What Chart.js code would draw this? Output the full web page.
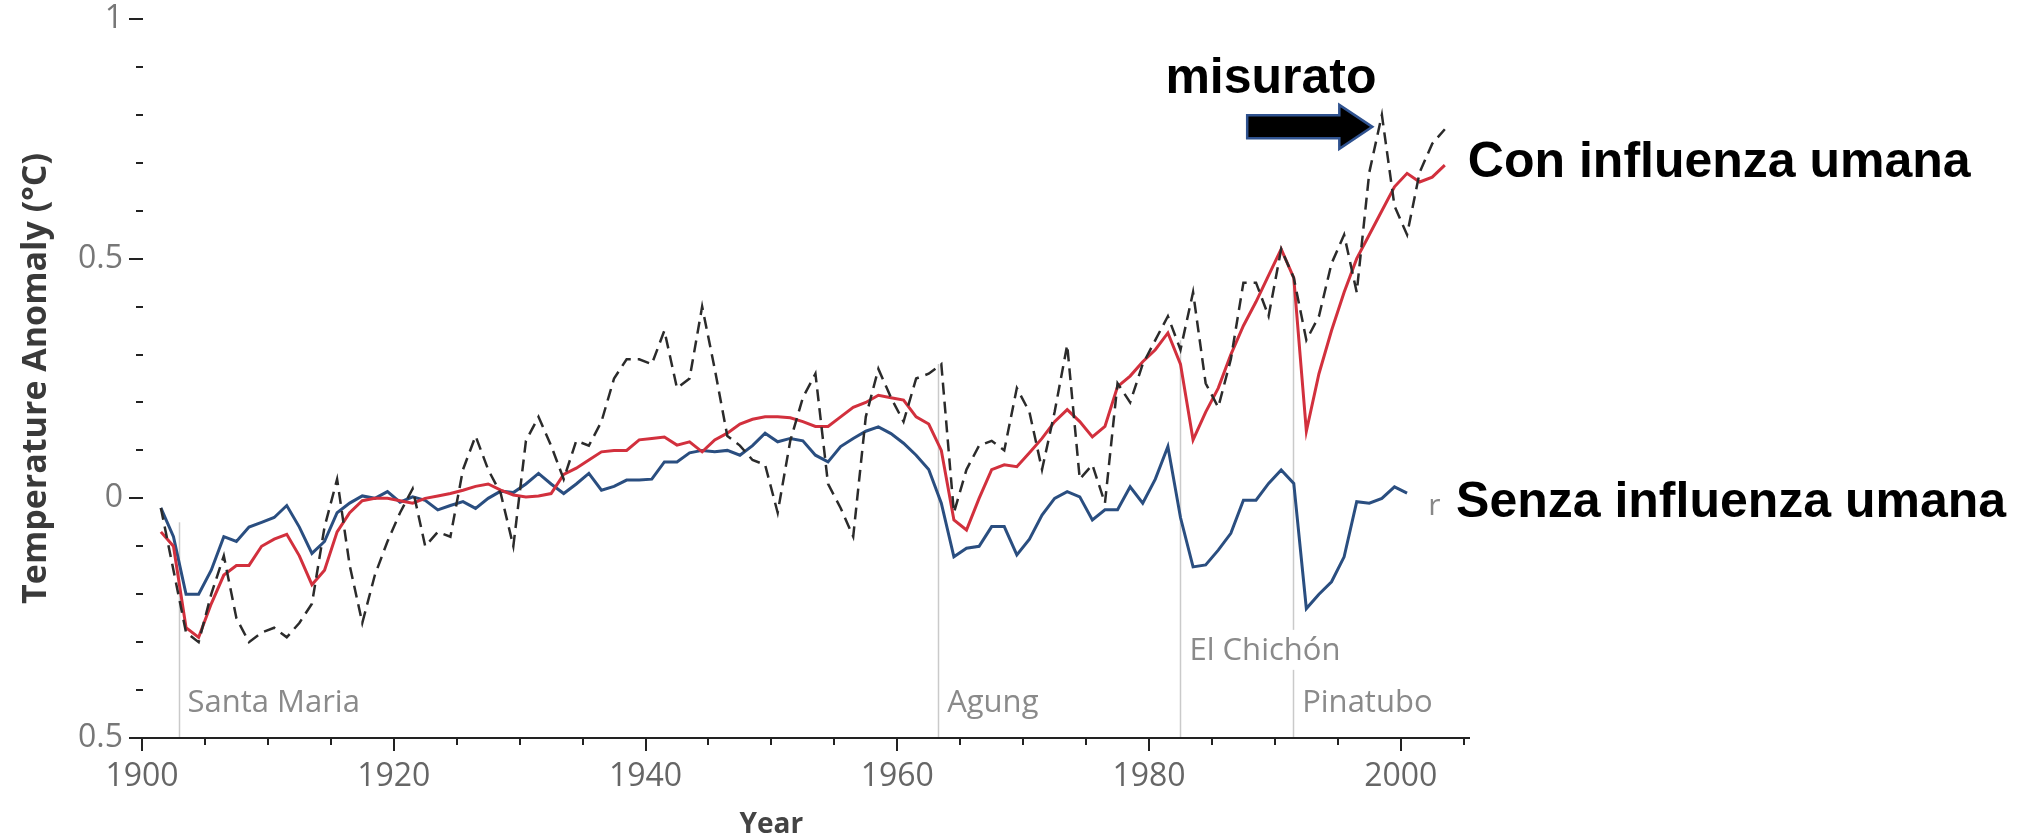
<!DOCTYPE html>
<html>
<head>
<meta charset="utf-8">
<title>Temperature Anomaly</title>
<script src="https://cdn.jsdelivr.net/npm/chart.js@4.4.1/dist/chart.umd.min.js"></script>
<style>
  html, body { margin: 0; padding: 0; background: #fff; overflow: hidden; }
  #wrap { width: 2018px; height: 839px; }
</style>
</head>
<body>
<div id="wrap"><canvas id="tempChart" width="2018" height="839"></canvas></div>
<script>
// annual means, one value per year (plotted at mid-year)
const years = [
  1901, 1902, 1903, 1904, 1905, 1906, 1907, 1908, 1909, 1910,
  1911, 1912, 1913, 1914, 1915, 1916, 1917, 1918, 1919, 1920,
  1921, 1922, 1923, 1924, 1925, 1926, 1927, 1928, 1929, 1930,
  1931, 1932, 1933, 1934, 1935, 1936, 1937, 1938, 1939, 1940,
  1941, 1942, 1943, 1944, 1945, 1946, 1947, 1948, 1949, 1950,
  1951, 1952, 1953, 1954, 1955, 1956, 1957, 1958, 1959, 1960,
  1961, 1962, 1963, 1964, 1965, 1966, 1967, 1968, 1969, 1970,
  1971, 1972, 1973, 1974, 1975, 1976, 1977, 1978, 1979, 1980,
  1981, 1982, 1983, 1984, 1985, 1986, 1987, 1988, 1989, 1990,
  1991, 1992, 1993, 1994, 1995, 1996, 1997, 1998, 1999, 2000,
  2001, 2002, 2003
];

// measured (dashed)
const observed = [
  -0.02, -0.15, -0.28, -0.30, -0.20, -0.12, -0.25, -0.30, -0.28, -0.27,
  -0.29, -0.26, -0.22, -0.06, 0.04, -0.14, -0.26, -0.16, -0.09, -0.03,
  0.02, -0.10, -0.07, -0.08, 0.06, 0.13, 0.06, 0.01, -0.10, 0.12,
  0.17, 0.11, 0.04, 0.12, 0.11, 0.16, 0.25, 0.29, 0.29, 0.28,
  0.35, 0.23, 0.25, 0.40, 0.27, 0.13, 0.11, 0.08, 0.07, -0.03,
  0.12, 0.21, 0.26, 0.03, -0.02, -0.08, 0.17, 0.27, 0.21, 0.16,
  0.25, 0.26, 0.28, -0.03, 0.06, 0.11, 0.12, 0.10, 0.23, 0.18,
  0.06, 0.18, 0.32, 0.04, 0.07, -0.01, 0.24, 0.20, 0.28, 0.33,
  0.38, 0.31, 0.43, 0.24, 0.19, 0.29, 0.45, 0.45, 0.38, 0.52,
  0.46, 0.33, 0.38, 0.49, 0.55, 0.43, 0.68, 0.80, 0.61, 0.55,
  0.68, 0.74, 0.77
];

// model, natural + human forcing (red)
const withHumans = [
  -0.07, -0.10, -0.27, -0.29, -0.22, -0.16, -0.14, -0.14, -0.10, -0.085,
  -0.075, -0.12, -0.18, -0.15, -0.07, -0.03, -0.005, 0.0, 0.0, -0.005,
  -0.01, 0.0, 0.005, 0.01, 0.017, 0.025, 0.03, 0.017, 0.007, 0.003,
  0.005, 0.01, 0.05, 0.063, 0.08, 0.097, 0.10, 0.10, 0.122, 0.125,
  0.128, 0.111, 0.118, 0.097, 0.122, 0.136, 0.155, 0.165, 0.17, 0.17,
  0.168, 0.16, 0.15, 0.15, 0.17, 0.19, 0.20, 0.215, 0.21, 0.205,
  0.17, 0.155, 0.10, -0.045, -0.066, 0.0, 0.06, 0.07, 0.066, 0.095,
  0.125, 0.16, 0.185, 0.16, 0.128, 0.15, 0.233, 0.255, 0.285, 0.31,
  0.345, 0.28, 0.122, 0.18, 0.23, 0.30, 0.36, 0.41, 0.465, 0.52,
  0.46, 0.14, 0.26, 0.35, 0.43, 0.50, 0.55, 0.60, 0.65, 0.678,
  0.66, 0.67, 0.695
];

// model, natural forcing only (blue)
const naturalOnly = [
  -0.02, -0.08, -0.20, -0.20, -0.15, -0.08, -0.09, -0.06, -0.05, -0.04,
  -0.015, -0.06, -0.115, -0.09, -0.03, -0.01, 0.005, 0.0, 0.014, -0.008,
  0.003, -0.004, -0.024, -0.015, -0.007, -0.021, 0.0, 0.015, 0.012, 0.03,
  0.052, 0.03, 0.01, 0.03, 0.052, 0.017, 0.025, 0.038, 0.038, 0.04,
  0.076, 0.076, 0.095, 0.10, 0.097, 0.10, 0.09, 0.11, 0.136, 0.118,
  0.125, 0.12, 0.09, 0.076, 0.108, 0.125, 0.14, 0.149, 0.135, 0.115,
  0.09, 0.06, -0.01, -0.122, -0.104, -0.10, -0.059, -0.059, -0.118, -0.085,
  -0.035, 0.0, 0.014, 0.003, -0.045, -0.024, -0.024, 0.024, -0.01, 0.04,
  0.108, -0.04, -0.143, -0.139, -0.108, -0.073, -0.004, -0.004, 0.031, 0.059,
  0.031, -0.23, -0.20, -0.174, -0.122, -0.007, -0.01, 0.0, 0.024, 0.011
];

// major eruptions
const volcanoNames = ['Santa Maria', 'Agung', 'El Chichón', 'Pinatubo'];
const volcanoYears = [1902.9, 1963.25, 1982.5, 1991.45];

const labelledYears = [1900, 1920, 1940, 1960, 1980, 2000];
const labelledAnomalies = [1, 0.5, 0, -0.5];

// where the eruption markers stop and their names sit (in axis units)
const volcanoLayout = {
  tops: [-0.05, 0.28, 0.33, 0.46],
  baselines: [-0.445, -0.445, -0.337, -0.445]
};

// bold captions and the arrow, anchored to the axes
const captions = [
  { text: 'misurato', year: 1981.3, level: 0.846 },
  { text: 'Con influenza umana', year: 2005.33, level: 0.67 },
  { text: 'Senza influenza umana', year: 2004.39, level: -0.039 }
];
const arrow = { from: 1987.8, to: 1997.74, level: 0.775 };

const toPoints = vals => vals.map((v, i) => ({ x: years[i] + 0.5, y: v }));

const isLabelled = (list, v) => list.some(t => Math.abs(t - v) < 1e-6);

// keep the plot area exactly where the axes are drawn
const noAutoPadding = scale => {
  scale.paddingTop = 0;
  scale.paddingBottom = 0;
  scale.paddingLeft = 0;
  scale.paddingRight = 0;
};

const decorations = {
  id: 'decorations',
  beforeDatasetsDraw(chart) {
    const { ctx } = chart;
    const x = chart.scales.x, y = chart.scales.y;
    ctx.save();
    ctx.strokeStyle = '#cacaca';
    ctx.lineWidth = 1.5;
    volcanoYears.forEach((yr, i) => {
      const px = Math.round(x.getPixelForValue(yr)) + 0.5;
      ctx.beginPath();
      ctx.moveTo(px, y.bottom);
      ctx.lineTo(px, y.getPixelForValue(volcanoLayout.tops[i]));
      ctx.stroke();
    });
    ctx.font = '31px "Open Sans"';
    ctx.textAlign = 'left';
    ctx.textBaseline = 'alphabetic';
    volcanoNames.forEach((name, i) => {
      const px = x.getPixelForValue(volcanoYears[i]) + 9;
      const py = y.getPixelForValue(volcanoLayout.baselines[i]);
      const w = ctx.measureText(name).width;
      ctx.fillStyle = '#fff';
      ctx.fillRect(px - 2, py - 30, w + 4, 40);
      ctx.fillStyle = '#8a8a8a';
      ctx.fillText(name, px, py);
    });
    ctx.restore();
  },
  afterDraw(chart) {
    const { ctx } = chart;
    const x = chart.scales.x, y = chart.scales.y;
    ctx.save();

    // axis line and tick marks
    ctx.strokeStyle = '#222';
    ctx.lineWidth = 2;
    ctx.beginPath();
    ctx.moveTo(x.left - 12, y.bottom);
    ctx.lineTo(x.right, y.bottom);
    ctx.stroke();
    x.ticks.forEach(t => {
      const px = Math.round(x.getPixelForValue(t.value));
      const len = isLabelled(labelledYears, t.value) ? 13 : 7;
      ctx.beginPath();
      ctx.moveTo(px, y.bottom);
      ctx.lineTo(px, y.bottom + len);
      ctx.stroke();
    });
    y.ticks.forEach(t => {
      const py = Math.round(y.getPixelForValue(t.value));
      const len = isLabelled(labelledAnomalies, t.value) ? 13 : 6;
      ctx.beginPath();
      ctx.moveTo(x.left - len, py);
      ctx.lineTo(x.left + 1, py);
      ctx.stroke();
    });

    // x axis title
    ctx.fillStyle = '#444';
    ctx.font = 'bold 28px "Open Sans"';
    ctx.textAlign = 'center';
    ctx.textBaseline = 'alphabetic';
    ctx.fillText('Year', x.getPixelForValue(1950), y.bottom + 95);

    // leftover glyph next to the end of the blue curve
    ctx.fillStyle = '#888';
    ctx.font = '30px "Open Sans"';
    ctx.textAlign = 'left';
    ctx.fillText('r', x.getPixelForValue(2002.19), y.getPixelForValue(-0.035));

    // arrow towards the 1998 peak
    const x0 = x.getPixelForValue(arrow.from);
    const x1 = x.getPixelForValue(arrow.to);
    const yc = y.getPixelForValue(arrow.level);
    const shaft = 11.5, head = 22, headLen = 33;
    ctx.beginPath();
    ctx.moveTo(x0, yc - shaft);
    ctx.lineTo(x1 - headLen, yc - shaft);
    ctx.lineTo(x1 - headLen, yc - head);
    ctx.lineTo(x1, yc);
    ctx.lineTo(x1 - headLen, yc + head);
    ctx.lineTo(x1 - headLen, yc + shaft);
    ctx.lineTo(x0, yc + shaft);
    ctx.closePath();
    ctx.fillStyle = '#000';
    ctx.fill();
    ctx.strokeStyle = '#2f528f';
    ctx.lineWidth = 2.5;
    ctx.lineJoin = 'miter';
    ctx.stroke();

    // captions
    ctx.fillStyle = '#000';
    ctx.font = 'bold 50px "Liberation Sans"';
    ctx.textAlign = 'left';
    captions.forEach(c => {
      ctx.fillText(c.text, x.getPixelForValue(c.year), y.getPixelForValue(c.level));
    });
    ctx.restore();
  }
};

const config = {
  type: 'line',
  data: {
    datasets: [{
      label: 'misurato',
      data: toPoints(observed),
      borderColor: '#2b2b2b',
      borderWidth: 2.5,
      borderDash: [12, 7],
      order: 0
    }, {
      label: 'Con influenza umana',
      data: toPoints(withHumans),
      borderColor: '#d2303d',
      borderWidth: 3,
      order: 1
    }, {
      label: 'Senza influenza umana',
      data: toPoints(naturalOnly),
      borderColor: '#2a4e80',
      borderWidth: 3,
      order: 2
    }]
  },
  options: {
    responsive: false,
    animation: false,
    devicePixelRatio: 1,
    layout: { padding: { top: 19, right: 548, left: 0, bottom: 0 } },
    elements: {
      point: { radius: 0, hoverRadius: 0 },
      line: { tension: 0, fill: false }
    },
    plugins: {
      legend: { display: false },
      tooltip: { enabled: false }
    },
    scales: {
      x: {
        type: 'linear',
        min: 1900,
        max: 2005.5,
        grid: { display: false, drawTicks: false },
        border: { display: false },
        ticks: {
          stepSize: 5,
          includeBounds: false,
          autoSkip: false,
          maxRotation: 0,
          padding: 20,
          color: '#666',
          font: { family: 'Open Sans', size: 32 },
          callback: v => isLabelled(labelledYears, v) ? String(v) : ''
        },
        afterFit: scale => {
          scale.height = 101;
          noAutoPadding(scale);
        }
      },
      y: {
        min: -0.5,
        max: 1,
        grid: { display: false, drawTicks: false },
        border: { display: false },
        ticks: {
          stepSize: 0.1,
          includeBounds: false,
          autoSkip: false,
          padding: 19,
          color: '#777',
          font: { family: 'Open Sans', size: 32 },
          // the scale prints magnitudes only
          callback: v => isLabelled(labelledAnomalies, v) ? String(Math.abs(Math.round(v * 10) / 10)) : ''
        },
        title: {
          display: true,
          text: 'Temperature Anomaly (°C)',
          color: '#3a3a3a',
          font: { family: 'Open Sans', size: 34, weight: 'bold' },
          padding: { top: 16, bottom: 0 }
        },
        afterFit: scale => {
          scale.width = 142;
          noAutoPadding(scale);
        }
      }
    }
  },
  plugins: [decorations]
};

const tempChart = new Chart(document.getElementById('tempChart'), config);
</script>
</body>
</html>
